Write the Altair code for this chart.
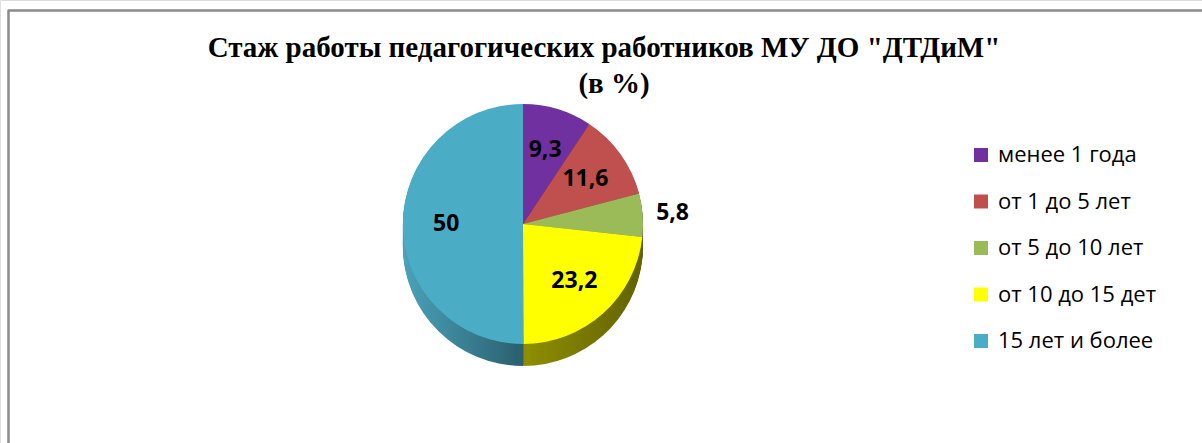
import math
import altair as alt
import pandas as pd

# ---- data ----
categories = ["менее 1 года", "от 1 до 5 лет", "от 5 до 10 лет", "от 10 до 15 дет", "15 лет и более"]
values = [9.3, 11.6, 5.8, 23.2, 50]
top_colors = ["#7030A0", "#C0504D", "#9BBB59", "#FFFF00", "#4BACC6"]
side_light = ["#4f2272", "#8a3a37", "#6f8740", "#8f8f00", "#4aa2b9"]
side_dark = ["#3a1954", "#662a28", "#52642f", "#626200", "#2a5f6f"]
title_lines = ['Стаж работы педагогических работников МУ ДО "ДТДиМ"', "(в %)"]

labels = [f"{v:g}".replace(".", ",") for v in values]
df = pd.DataFrame({
    "category": categories,
    "value": values,
    "order": list(range(len(values))),
    "label": labels,
})
total = sum(values)

W, H = 1202, 443
CX, CY, R, DEPTH = 523, 224, 120, 22

base = (
    alt.Chart(df)
    .transform_window(cum="sum(value)", sort=[alt.SortField("order")], frame=[None, 0])
    .transform_calculate(start="datum.cum - datum.value", mid="datum.cum - datum.value / 2")
)
tscale = alt.Scale(domain=[0, total], range=[0, 2 * math.pi])
theta = alt.Theta("start:Q", stack=None, scale=tscale)
theta2 = alt.Theta2("cum:Q")

layers = []

# frame border
layers.append(
    alt.Chart(df).mark_rect(filled=False, stroke="#8c8c8c", strokeWidth=1.5).encode(
        x=alt.value(8.5), x2=alt.value(W + 20), y=alt.value(10.5), y2=alt.value(H + 20)
    )
)

# 3D side of the pie: darker copies shifted downward
for d in range(DEPTH, 0, -1):
    for i, c in enumerate(categories):
        grad = alt.LinearGradient(
            gradient="linear",
            stops=[alt.GradientStop(color=side_light[i], offset=0),
                   alt.GradientStop(color=side_dark[i], offset=1)],
            x1=0, x2=1, y1=0, y2=0,
        )
        layers.append(
            base.transform_filter(alt.datum.category == c)
            .mark_arc(radius=R, color=grad)
            .encode(theta=theta, theta2=theta2, x=alt.value(CX), y=alt.value(CY + d))
        )

# top face
layers.append(
    base.mark_arc(radius=R).encode(
        theta=theta,
        theta2=theta2,
        x=alt.value(CX),
        y=alt.value(CY),
        color=alt.Color(
            "category:N",
            scale=alt.Scale(domain=categories, range=top_colors),
            legend=alt.Legend(
                title=None,
                orient="none",
                legendX=970,
                legendY=144,
                symbolType="square",
                symbolSize=196,
                symbolStrokeWidth=0,
                labelFont="Open Sans",
                labelFontSize=22,
                labelColor="#000000",
                labelOffset=6,
                labelLimit=400,
                rowPadding=24.5,
            ),
        ),
    )
)

label_theta = alt.Theta("mid:Q", stack=None, scale=tscale)
text_style = dict(font="Open Sans", fontSize=23, fontWeight="bold", color="#000000")

layers.append(
    base.transform_filter(alt.datum.value >= 8)
    .mark_text(radius=R * 0.64, **text_style)
    .encode(theta=label_theta, text="label:N", x=alt.value(CX), y=alt.value(CY))
)
layers.append(
    base.transform_filter(alt.datum.value < 8)
    .mark_text(radius=R * 1.25, **text_style)
    .encode(theta=label_theta, text="label:N", x=alt.value(CX), y=alt.value(CY))
)

# title (two lines)
title_df = pd.DataFrame({"t": title_lines, "i": list(range(len(title_lines)))})
title_style = dict(font="Liberation Serif", fontSize=29, fontWeight="bold", color="#000000")
layers.append(
    alt.Chart(title_df)
    .transform_filter(alt.datum.i == 0)
    .mark_text(**title_style)
    .encode(text="t:N", x=alt.value(604), y=alt.value(48))
)
layers.append(
    alt.Chart(title_df)
    .transform_filter(alt.datum.i == 1)
    .mark_text(**title_style)
    .encode(text="t:N", x=alt.value(614), y=alt.value(84))
)

chart = (
    alt.layer(*layers)
    .properties(width=W, height=H, padding=0, autosize=alt.AutoSizeParams(type="none"))
    .configure_view(stroke=None)
    .configure(background="#ffffff")
)

chart.save("out.html", embed_options={"renderer": "svg", "actions": False})
